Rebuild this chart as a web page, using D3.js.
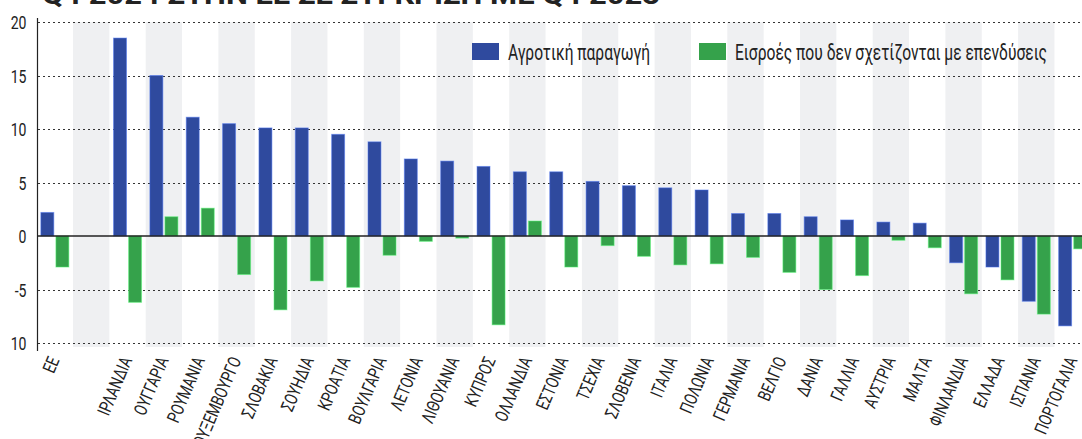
<!DOCTYPE html>
<html>
<head>
<meta charset="utf-8">
<script src="https://cdn.jsdelivr.net/npm/d3@7/dist/d3.min.js"></script>
<style>
  html, body { margin: 0; padding: 0; background: #fff; }
  svg { display: block; }
  text { font-family: Roboto, "Liberation Sans", sans-serif; fill: #222; }
</style>
</head>
<body>
<svg id="chart" width="1082" height="439"></svg>
<script>
// ---- data ----
const categories = ["ΕΕ", "", "ΙΡΛΑΝΔΙΑ", "ΟΥΓΓΑΡΙΑ", "ΡΟΥΜΑΝΙΑ", "ΛΟΥΞΕΜΒΟΥΡΓΟ", "ΣΛΟΒΑΚΙΑ", "ΣΟΥΗΔΙΑ",
  "ΚΡΟΑΤΙΑ", "ΒΟΥΛΓΑΡΙΑ", "ΛΕΤΟΝΙΑ", "ΛΙΘΟΥΑΝΙΑ", "ΚΥΠΡΟΣ", "ΟΛΛΑΝΔΙΑ", "ΕΣΤΟΝΙΑ", "ΤΣΕΧΙΑ",
  "ΣΛΟΒΕΝΙΑ", "ΙΤΑΛΙΑ", "ΠΟΛΩΝΙΑ", "ΓΕΡΜΑΝΙΑ", "ΒΕΛΓΙΟ", "ΔΑΝΙΑ", "ΓΑΛΛΙΑ", "ΑΥΣΤΡΙΑ", "ΜΑΛΤΑ",
  "ΦΙΝΛΑΝΔΙΑ", "ΕΛΛΑΔΑ", "ΙΣΠΑΝΙΑ", "ΠΟΡΤΟΓΑΛΙΑ"];
const agriProduction = [2.2, null, 18.5, 15.0, 11.1, 10.5, 10.1, 10.1, 9.5, 8.8, 7.2, 7.0, 6.5, 6.0,
  6.0, 5.1, 4.7, 4.5, 4.3, 2.1, 2.1, 1.8, 1.5, 1.3, 1.2, -2.5, -2.9, -6.1, -8.4];
const nonInvestInputs = [-2.9, null, -6.2, 1.8, 2.6, -3.6, -6.9, -4.2, -4.8, -1.8, -0.5, -0.2, -8.3, 1.4,
  -2.9, -0.9, -1.9, -2.7, -2.6, -2.0, -3.4, -5.0, -3.7, -0.4, -1.1, -5.4, -4.1, -7.3, -1.2];
const seriesNames = ["Αγροτική παραγωγή", "Εισροές που δεν σχετίζονται με επενδύσεις"];
const seriesColors = ["#2f4a9e", "#35a24b"];
const yTicks = [-10, -5, 0, 5, 10, 15, 20];
const yTickLabels = ["10", "-5", "0", "5", "10", "15", "20"];
const titleText = "Q4 2024 ΣΤΗΝ ΕΕ ΣΕ ΣΥΓΚΡΙΣΗ ΜΕ Q4 2023";

// ---- chart ----
const svg = d3.select("#chart");
const slotKeys = categories.map((c, i) => i);

const x0 = d3.scaleBand().domain(slotKeys).range([36.65, 1090.8]).padding(0);
const x1 = d3.scaleBand().domain([0, 1]).range([4.2, 32.2]).paddingInner(0.14);
const y = d3.scaleLinear().domain([-10, 20]).range([343, 22]);

// title (cut off at top edge, as in the source)
svg.append("text")
  .attr("x", 42).attr("y", 4)
  .attr("font-size", 28).attr("font-weight", "bold")
  .attr("textLength", 618).attr("lengthAdjust", "spacingAndGlyphs")
  .text(titleText);

// alternating bands
svg.append("g").selectAll("rect")
  .data(slotKeys.filter(i => i % 2 === 1))
  .join("rect")
  .attr("x", i => x0(i)).attr("width", x0.bandwidth())
  .attr("y", 22).attr("height", 347 - 22)
  .attr("fill", "#eff0f2");

// grid lines
svg.append("g").selectAll("line")
  .data(yTicks.filter(t => t !== 0))
  .join("line")
  .attr("x1", 38).attr("x2", 1082)
  .attr("y1", d => Math.round(y(d)) + 0.5).attr("y2", d => Math.round(y(d)) + 0.5)
  .attr("stroke", "#333").attr("stroke-width", 1)
  .attr("stroke-dasharray", "2,3");

// y axis
const yAxis = d3.axisLeft(y).tickValues(yTicks)
  .tickFormat((d, i) => yTickLabels[i]).tickSize(0).tickPadding(0);
const yg = svg.append("g").attr("transform", "translate(37.5,0)").call(yAxis);
yg.select(".domain").remove();
yg.selectAll(".tick text")
  .attr("x", 0).attr("dy", "0.36em")
  .attr("transform", "translate(-11,0) scale(0.74,1)")
  .attr("font-size", 19).attr("fill", "#222")
  .style("font-family", "Roboto, sans-serif");
svg.append("line").attr("x1", 37.5).attr("x2", 37.5).attr("y1", 18).attr("y2", 351)
  .attr("stroke", "#222").attr("stroke-width", 1.2);

// bars
const seriesData = [agriProduction, nonInvestInputs];
seriesData.forEach((vals, s) => {
  svg.append("g").selectAll("rect")
    .data(vals.map((v, i) => ({ i, v })).filter(d => d.v !== null))
    .join("rect")
    .attr("x", d => x0(d.i) + x1(s))
    .attr("width", x1.bandwidth())
    .attr("y", d => y(Math.max(0, d.v)))
    .attr("height", d => Math.abs(y(d.v) - y(0)))
    .attr("fill", seriesColors[s])
    .attr("stroke", d3.color(seriesColors[s]).brighter(1.2))
    .attr("stroke-opacity", 0.5)
    .attr("stroke-width", 1);
});

// zero line
svg.append("line").attr("x1", 37).attr("x2", 1082)
  .attr("y1", y(0)).attr("y2", y(0))
  .attr("stroke", "#222").attr("stroke-width", 1.6);

// x labels
svg.append("g").selectAll("text")
  .data(slotKeys.filter(i => categories[i] !== ""))
  .join("text")
  .attr("transform", i => `translate(${x0(i) + x0.bandwidth() / 2 + 5},360) rotate(-67) scale(0.76,1)`)
  .attr("text-anchor", "end")
  .attr("font-size", 18)
  .text(i => categories[i]);

// legend
const legend = svg.append("g");
const legendX = [472, 699];
const legendTextLen = [142, 312];
seriesNames.forEach((name, s) => {
  legend.append("rect").attr("x", legendX[s]).attr("y", 43).attr("width", 27).attr("height", 17)
    .attr("fill", seriesColors[s]);
  legend.append("text").attr("x", legendX[s] + 36).attr("y", 60)
    .attr("font-size", 22)
    .attr("textLength", legendTextLen[s]).attr("lengthAdjust", "spacingAndGlyphs")
    .text(name);
});
</script>
</body>
</html>
